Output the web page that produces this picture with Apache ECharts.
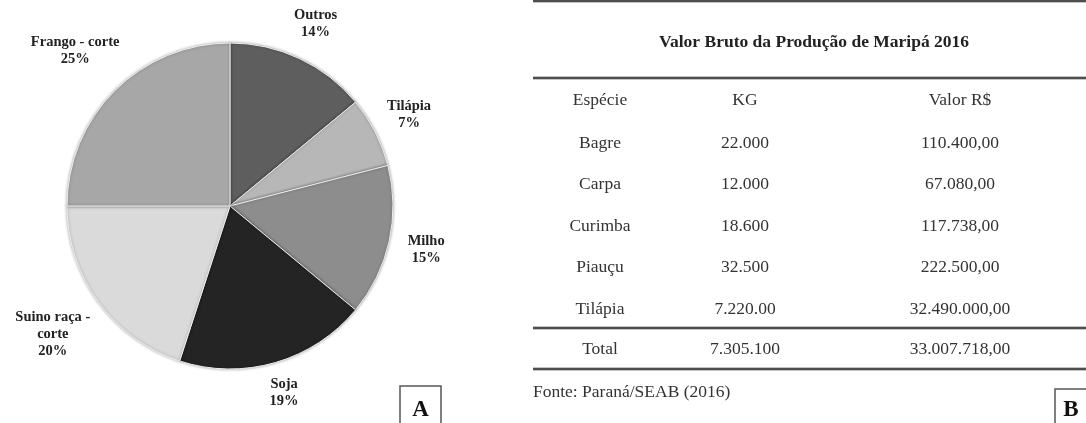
<!DOCTYPE html>
<html>
<head>
<meta charset="utf-8">
<script src="https://cdn.jsdelivr.net/npm/echarts@6/dist/echarts.min.js"></script>
<style>
html,body{margin:0;padding:0;background:#fff;}
#chart{width:1086px;height:423px;}
</style>
</head>
<body>
<div id="chart"></div>
<script>
// ---- Pie data (A) ----
const pieNames = ['Outros', 'Tilápia', 'Milho', 'Soja', 'Suino raça -\ncorte', 'Frango - corte'];
const pieValues = [14, 7, 15, 19, 20, 25];

// ---- Table data (B) ----
const tableTitle = 'Valor Bruto da Produção de Maripá 2016';
const tableHeader = ['Espécie', 'KG', 'Valor R$'];
const species = ['Bagre', 'Carpa', 'Curimba', 'Piauçu', 'Tilápia'];
const kgValues = ['22.000', '12.000', '18.600', '32.500', '7.220.00'];
const brlValues = ['110.400,00', '67.080,00', '117.738,00', '222.500,00', '32.490.000,00'];
const totalRow = ['Total', '7.305.100', '33.007.718,00'];
const sourceText = 'Fonte: Paraná/SEAB (2016)';
const panelLetters = ['A', 'B'];

const chart = echarts.init(document.getElementById('chart'), null, {renderer: 'canvas'});

const SERIF = '"Liberation Serif", "DejaVu Serif", serif';
const bodyFont = '17.5px ' + SERIF;
const colX = [600, 745, 960];
const rowY0 = 143, rowStep = 41.5;

// which label ring each slice uses (0 = near, 1 = nearest, 2 = far)
const labelRing = [0, 0, 0, 1, 2, 2];
const pieData = pieNames.map((n, i) => ({name: n, value: pieValues[i]}));
const ringData = function (ring) {
  return pieNames.map((n, i) => ({name: n, value: pieValues[i], label: {show: labelRing[i] === ring}}));
};

const graphics = [];
function txt(t, x, y, font, fill, align) {
  graphics.push({
    type: 'text', x: x, y: y, silent: true,
    style: {text: t, font: font, fill: fill || '#333', textAlign: align || 'center', textVerticalAlign: 'middle', align: align || 'center', verticalAlign: 'middle'}
  });
}
function hline(y, x1, x2, w, c) {
  graphics.push({type: 'line', silent: true, shape: {x1: x1, y1: y, x2: x2, y2: y}, style: {stroke: c, lineWidth: w}});
}

// table rules (double-looking)
[1, 78, 328, 369].forEach(function (y) {
  hline(y, 533, 1086, 3, '#8a8a8a');
  hline(y, 533, 1086, 1.3, '#3a3a3a');
});

txt(tableTitle, 814, 42, 'bold 17.5px ' + SERIF, '#222');
tableHeader.forEach(function (h, i) { txt(h, colX[i], 100, bodyFont, '#333'); });
species.forEach(function (s, r) {
  const y = rowY0 + r * rowStep;
  txt(s, colX[0], y, bodyFont, '#333');
  txt(kgValues[r], colX[1], y, bodyFont, '#333');
  txt(brlValues[r], colX[2], y, bodyFont, '#333');
});
totalRow.forEach(function (t, i) { txt(t, colX[i], 349, bodyFont, '#333'); });
txt(sourceText, 533, 392, '17.5px ' + SERIF, '#333', 'left');

// panel letter boxes
graphics.push({type: 'rect', silent: true, shape: {x: 400, y: 386, width: 41, height: 50}, style: {fill: '#fff', stroke: '#555', lineWidth: 1.5}});
txt(panelLetters[0], 420.5, 410, 'bold 23px ' + SERIF, '#111');
graphics.push({type: 'rect', silent: true, shape: {x: 1055, y: 389, width: 45, height: 50}, style: {fill: '#fff', stroke: '#555', lineWidth: 1.5}});
txt(panelLetters[1], 1071, 410, 'bold 23px ' + SERIF, '#111');

const labelStyle = {
  show: true,
  position: 'inside',
  formatter: '{b}\n{d}%',
  fontFamily: SERIF,
  fontWeight: 'bold',
  fontSize: 14.5,
  lineHeight: 17,
  color: '#222',
  align: 'center'
};

function labelRingSeries(radius, ring) {
  return {
    type: 'pie',
    center: [230, 206],
    radius: radius,
    startAngle: 90,
    clockwise: true,
    silent: true,
    itemStyle: {color: 'transparent'},
    labelLine: {show: false},
    label: labelStyle,
    data: ringData(ring)
  };
}

const option = {
  backgroundColor: '#fff',
  animation: false,
  color: ['#5e5e5e', '#b7b7b7', '#8d8d8d', '#242424', '#dadada', '#a7a7a7'],
  series: [
    {
      type: 'pie',
      center: [230, 206],
      radius: 163,
      startAngle: 90,
      clockwise: true,
      silent: true,
      label: {show: false},
      labelLine: {show: false},
      itemStyle: {borderColor: '#eeeeee', borderWidth: 1, shadowBlur: 3, shadowColor: 'rgba(0,0,0,0.35)'},
      data: pieData
    },
    labelRingSeries([178, 218], 0),
    labelRingSeries([172, 210], 1),
    labelRingSeries([196, 236], 2)
  ],
  graphic: graphics
};
chart.setOption(option);
</script>
</body>
</html>
